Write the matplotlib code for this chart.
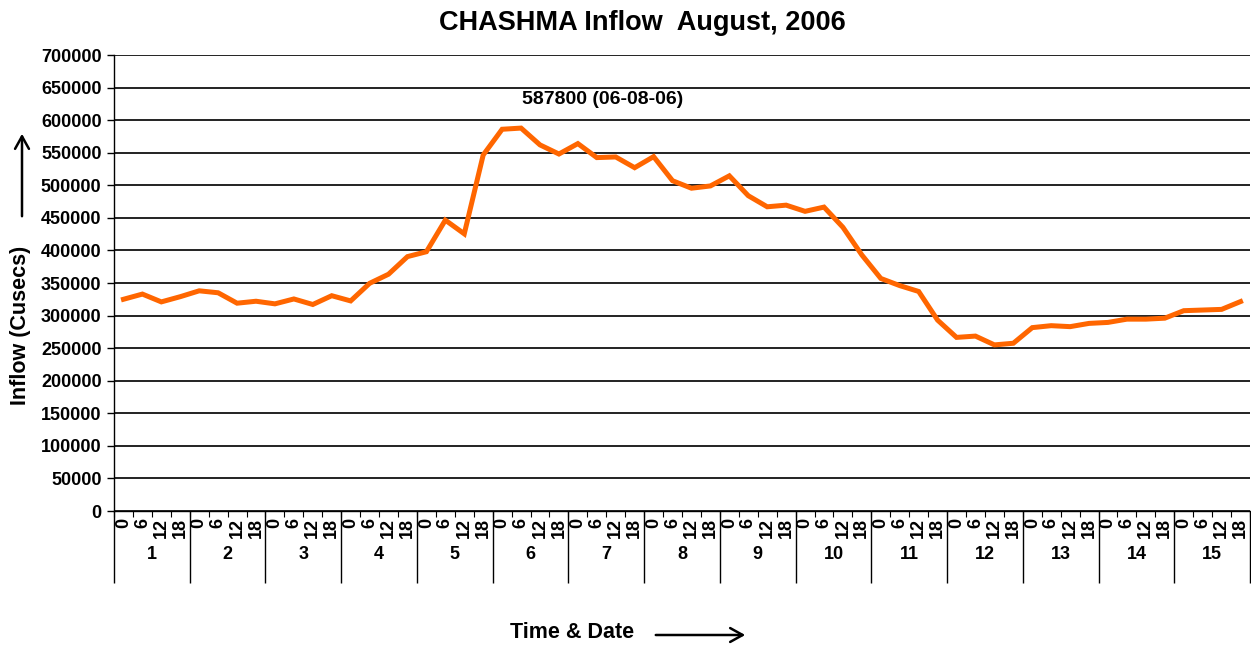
import numpy as np
import matplotlib
matplotlib.use("Agg")
import matplotlib.pyplot as plt

plt.rcParams['font.family'] = ['Liberation Sans', 'DejaVu Sans']
plt.rcParams['font.weight'] = 'bold'

days = [str(d) for d in range(1, 16)]
hours = ['0', '6', '12', '18']
inflow = [
    325000, 333000, 321000, 329000,
    338000, 335000, 319000, 322000,
    318000, 325500, 317000, 330500,
    322500, 349500, 363500, 390500,
    398000, 446500, 425500, 546500,
    586000, 587800, 562000, 548000,
    564000, 542500, 543500, 527000,
    544000, 507000, 495500, 499000,
    514500, 484000, 467000, 469500,
    460000, 466500, 435500, 393000,
    357000, 346000, 337000, 293000,
    266500, 268500, 255000, 257500,
    281500, 284500, 283000, 288000,
    289500, 294500, 294500, 296000,
    307500, 308500, 309500, 321500,
]
peak_label = '587800 (06-08-06)'

W, H = 1251, 645
fig = plt.figure(figsize=(W / 100, H / 100), dpi=100)
L, R, B, T = 114, 1250, 511, 55
ax = fig.add_axes([L / W, 1 - B / H, (R - L) / W, (B - T) / H])

n = len(inflow)
x = np.arange(n) + 0.5
ax.set_xlim(0, n)
ax.set_ylim(0, 700000)
ax.set_yticks(np.arange(0, 700001, 50000))
ax.yaxis.grid(True, color='#111111', linewidth=1.3)
ax.set_axisbelow(True)
ax.tick_params(axis='y', length=5, width=1, labelsize=13, pad=4)
for lab in ax.get_yticklabels():
    lab.set_fontweight('bold')

ax.plot(x, inflow, color='#FF6600', linewidth=3.6, solid_joinstyle='miter', zorder=3)

for s in ['top', 'right']:
    ax.spines[s].set_visible(False)
ax.spines['left'].set_linewidth(1.0)
ax.spines['bottom'].set_linewidth(1.0)

# hour labels
ax.set_xticks(x)
ax.set_xticklabels(hours * len(days), rotation=90, fontsize=13, fontweight='bold')
ax.tick_params(axis='x', which='major', length=0, pad=5)
ax.set_xticks(np.arange(n + 1), minor=True)
ax.tick_params(axis='x', which='minor', length=4, width=0.8)

# day separators
sep = ax.secondary_xaxis('bottom')
sep.set_xticks(np.arange(0, n + 1, 4))
sep.set_xticklabels([''] * (len(days) + 1))
sep.tick_params(length=52, width=1.0)
sep.spines['bottom'].set_visible(False)

# day labels
dl = ax.secondary_xaxis('bottom')
dl.set_xticks(np.arange(len(days)) * 4 + 2)
dl.set_xticklabels(days, fontsize=13, fontweight='bold')
dl.tick_params(length=0, pad=25)
dl.spines['bottom'].set_visible(False)

# peak annotation
ax.text(25.8, 631500, peak_label, ha='center', va='center', fontsize=14, fontweight='bold')

# title
fig.text(642 / W, 1 - 23 / H, 'CHASHMA Inflow  August, 2006', ha='center', va='center',
         fontsize=19.5, fontweight='bold')

# y label with arrow
fig.text(21 / W, 1 - 325 / H, 'Inflow (Cusecs)', rotation=90, ha='center', va='center',
         fontsize=15.5, fontweight='bold')
fig.add_artist(matplotlib.patches.FancyArrowPatch((22 / W, 1 - 219 / H), (22 / W, 1 - 131 / H),
               transform=fig.transFigure, arrowstyle='->,head_length=9,head_width=5',
               mutation_scale=1, linewidth=1.8, color='black'))

# x label with arrow
fig.text(572 / W, 1 - 633 / H, 'Time & Date', ha='center', va='center',
         fontsize=15.5, fontweight='bold')
fig.add_artist(matplotlib.patches.FancyArrowPatch((653 / W, 1 - 635 / H), (748 / W, 1 - 635 / H),
               transform=fig.transFigure, arrowstyle='->,head_length=9,head_width=5',
               mutation_scale=1, linewidth=1.8, color='black'))

fig.savefig('out.png', dpi=100)
